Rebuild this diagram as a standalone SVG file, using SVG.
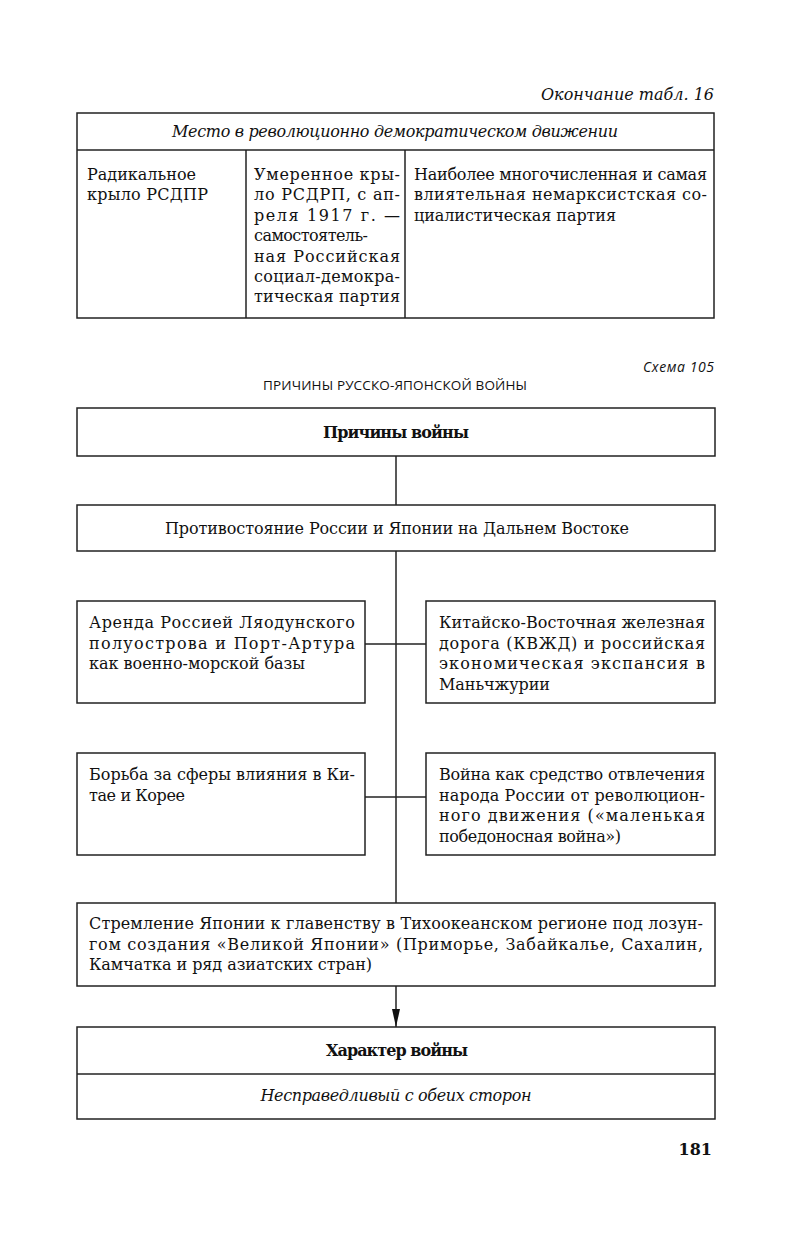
<svg xmlns="http://www.w3.org/2000/svg" width="791" height="1245" viewBox="0 0 791 1245">
<style>
.bg{fill:#ffffff}
.box{fill:none;stroke:#222;stroke-width:1.5}
.ln{stroke:#222;stroke-width:1.5;fill:none}
.t{font-family:"DejaVu Serif","Liberation Serif",serif;font-size:16px;fill:#111}
.b{font-weight:bold}
.i{font-style:italic}
.c{text-anchor:middle}
.r{text-anchor:end}
.s{font-family:"Open Sans","Liberation Sans",sans-serif;fill:#111}
</style>
<defs>
<marker id="arr" markerWidth="20" markerHeight="10" refX="18" refY="4.5" orient="auto" markerUnits="userSpaceOnUse" viewBox="0 0 20 10">
<path d="M0,0.5 L18,4.5 L0,8.5 Z" fill="#111"/>
</marker>
</defs>
<rect class="bg" x="0" y="0" width="791" height="1245"/>

<g id="table">
<text class="t i r" x="714" y="100" textLength="173">Окончание табл. 16</text>
<rect class="box" x="77" y="113" width="637" height="205"/>
<line class="ln" x1="77" y1="150" x2="714" y2="150"/>
<line class="ln" x1="246" y1="150" x2="246" y2="318"/>
<line class="ln" x1="405" y1="150" x2="405" y2="318"/>
<text class="t i c" x="395" y="137" textLength="446">Место в революционно демократическом движении</text>
<text class="t" x="87" y="180" textLength="109">Радикальное</text>
<text class="t" x="87" y="200" textLength="121">крыло РСДПР</text>
<text class="t" x="254" y="180" textLength="146">Умеренное кры-</text>
<text class="t" x="254" y="200.4" textLength="146">ло РСДРП, с ап-</text>
<text class="t" x="254" y="220.8" textLength="146">реля 1917 г. —</text>
<text class="t" x="254" y="241.2" textLength="114">самостоятель-</text>
<text class="t" x="254" y="261.6" textLength="146">ная Российская</text>
<text class="t" x="254" y="282" textLength="146">социал-демокра-</text>
<text class="t" x="254" y="302.4" textLength="146">тическая партия</text>
<text class="t" x="414" y="180" textLength="293">Наиболее многочисленная и самая</text>
<text class="t" x="414" y="200.4" textLength="293">влиятельная немарксистская со-</text>
<text class="t" x="414" y="220.8" textLength="202">циалистическая партия</text>
</g>

<g id="heading">
<text class="s i r" x="714" y="372" font-size="14" textLength="71">Схема 105</text>
<text class="s c" x="395" y="390" font-size="13.5" textLength="264">ПРИЧИНЫ РУССКО-ЯПОНСКОЙ ВОЙНЫ</text>
</g>

<g id="connectors">
<line class="ln" x1="396" y1="456" x2="396" y2="505"/>
<line class="ln" x1="396" y1="551" x2="396" y2="903"/>
<line class="ln" x1="365" y1="644" x2="426" y2="644"/>
<line class="ln" x1="365" y1="797" x2="426" y2="797"/>
<line class="ln" x1="396" y1="986" x2="396" y2="1027" marker-end="url(#arr)"/>
</g>

<g id="n-causes">
<rect class="box" x="77" y="408" width="638" height="48"/>
<text class="t b c" x="396" y="438" textLength="146">Причины войны</text>
</g>

<g id="n-confront">
<rect class="box" x="77" y="505" width="638" height="46"/>
<text class="t c" x="397" y="534" textLength="464">Противостояние России и Японии на Дальнем Востоке</text>
</g>

<g id="n-lease">
<rect class="box" x="77" y="601" width="288" height="102"/>
<text class="t" x="89" y="628" textLength="266">Аренда Россией Ляодунского</text>
<text class="t" x="89" y="648.5" textLength="266">полуострова и Порт-Артура</text>
<text class="t" x="89" y="669" textLength="216">как военно-морской базы</text>
</g>

<g id="n-kvzhd">
<rect class="box" x="426" y="601" width="289" height="102"/>
<text class="t" x="439" y="628" textLength="266">Китайско-Восточная железная</text>
<text class="t" x="439" y="648.5" textLength="266">дорога (КВЖД) и российская</text>
<text class="t" x="439" y="669" textLength="266">экономическая экспансия в</text>
<text class="t" x="439" y="689.5" textLength="111">Маньчжурии</text>
</g>

<g id="n-spheres">
<rect class="box" x="77" y="753" width="288" height="102"/>
<text class="t" x="89" y="780" textLength="266">Борьба за сферы влияния в Ки-</text>
<text class="t" x="89" y="800.5" textLength="96">тае и Корее</text>
</g>

<g id="n-distract">
<rect class="box" x="426" y="753" width="289" height="102"/>
<text class="t" x="439" y="780" textLength="266">Война как средство отвлечения</text>
<text class="t" x="439" y="800.5" textLength="266">народа России от революцион-</text>
<text class="t" x="439" y="821" textLength="266">ного движения («маленькая</text>
<text class="t" x="439" y="841.5" textLength="182">победоносная война»)</text>
</g>

<g id="n-japan">
<rect class="box" x="77" y="903" width="638" height="83"/>
<text class="t" x="89" y="929" textLength="614">Стремление Японии к главенству в Тихоокеанском регионе под лозун-</text>
<text class="t" x="89" y="949.5" textLength="614">гом создания «Великой Японии» (Приморье, Забайкалье, Сахалин,</text>
<text class="t" x="89" y="970" textLength="283">Камчатка и ряд азиатских стран)</text>
</g>

<g id="n-character">
<rect class="box" x="77" y="1027" width="638" height="92"/>
<line class="ln" x1="77" y1="1074" x2="715" y2="1074"/>
<text class="t b c" x="397" y="1056" textLength="142">Характер войны</text>
<text class="t i c" x="396" y="1101" textLength="271">Несправедливый с обеих сторон</text>
</g>

<text class="t b r" x="712" y="1155" font-size="17">181</text>
</svg>
